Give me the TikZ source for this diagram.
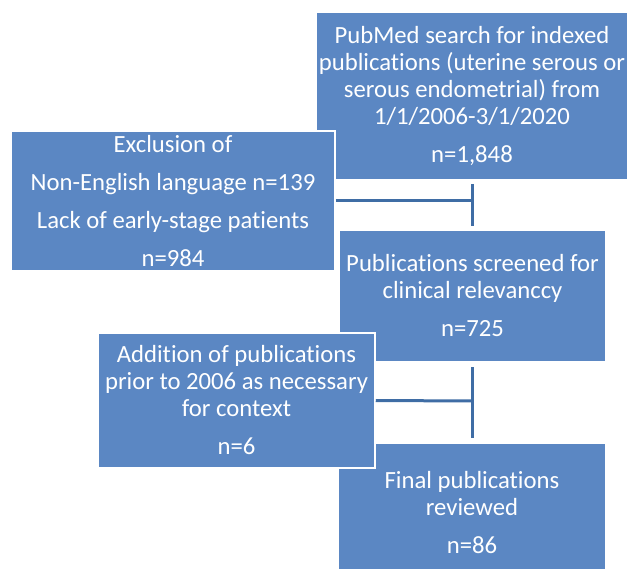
\documentclass[tikz,border=0pt]{standalone}
\usepackage{fontspec}
\setmainfont[RawFeature=-liga]{Carlito}
\definecolor{boxblue}{HTML}{5B87C3}
\definecolor{lineblue}{HTML}{3F6DA5}
\begin{document}
\begin{tikzpicture}[x=1pt,y=-1pt,
  flowbox/.style={rectangle, fill=boxblue, draw=white, line width=1.5pt,
    text=white, align=center, inner sep=0pt,
    font=\fontsize{24.7}{27}\selectfont},
  tee/.style={draw=lineblue, line width=3pt}]
\useasboundingbox (0,0) rectangle (629,569);
\clip (0,0) rectangle (629,569);
% background column boxes
\node[flowbox, minimum width=312pt, minimum height=168pt] (search) at (472,96)
  {PubMed search for indexed\\publications (uterine serous or\\serous endometrial) from\\1/1/2006-3/1/2020\\[11pt]n=1,848};
\node[flowbox, minimum width=267pt, minimum height=132pt] (screen) at (472.5,296)
  {Publications screened for\\clinical relevanccy\\[11pt]n=725};
\node[flowbox, minimum width=268pt, minimum height=140pt] (final) at (472,513)
  {Final publications\\reviewed\\[11pt]n=86};
% side boxes
\node[flowbox, minimum width=324pt, minimum height=140pt] (excl) at (173,201)
  {Exclusion of\\[11pt]Non-English language n=139\\[11pt]Lack of early-stage patients\\[11pt]n=984};
\node[flowbox, minimum width=277pt, minimum height=135pt] (addit) at (236.5,400.5)
  {Addition of publications\\prior to 2006 as necessary\\for context\\[11pt]n=6};
% connectors
\coordinate (t1a) at (472,184);
\coordinate (t1b) at (472,226);
\coordinate (t1m) at (472,201);
\coordinate (t2a) at (472,367);
\coordinate (t2b) at (472,438);
\coordinate (t2m) at (472,401);
\draw[tee] (t1a) -- (t1b);
\draw[tee] (excl.east) -- (t1m);
\draw[tee] (t2a) -- (t2b);
\draw[tee] (addit.east) -- (t2m);
\end{tikzpicture}
\end{document}
